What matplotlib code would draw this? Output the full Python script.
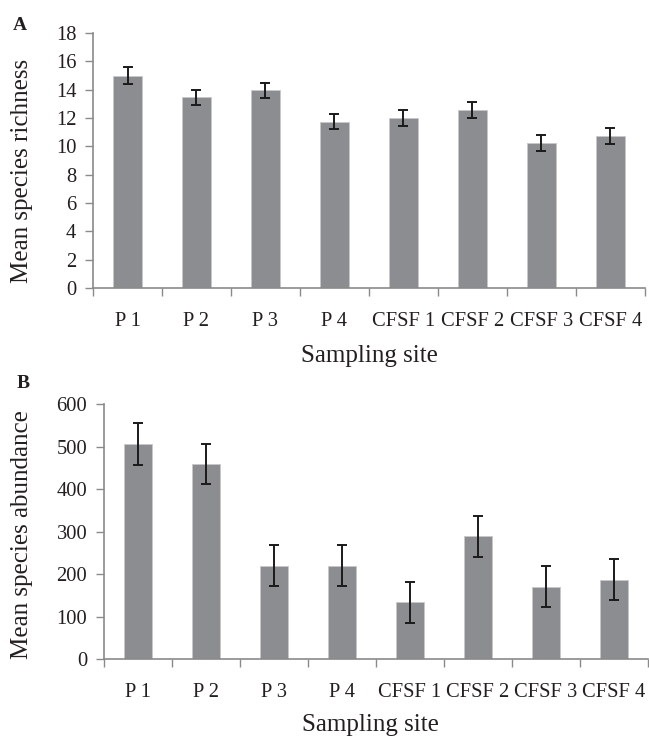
import matplotlib.pyplot as plt
import numpy as np

plt.rcParams['font.family'] = ['Liberation Serif', 'DejaVu Serif']
plt.rcParams['text.color'] = '#231f20'
plt.rcParams['xtick.labelcolor'] = '#231f20'
plt.rcParams['ytick.labelcolor'] = '#231f20'
plt.rcParams['axes.labelcolor'] = '#231f20'

sites = ['P 1', 'P 2', 'P 3', 'P 4', 'CFSF 1', 'CFSF 2', 'CFSF 3', 'CFSF 4']
richness = [15.0, 13.45, 13.95, 11.75, 12.0, 12.55, 10.25, 10.75]
richness_err = [0.57, 0.55, 0.55, 0.55, 0.55, 0.55, 0.55, 0.55]
abundance = [506, 459, 220, 220, 134, 289, 171, 187]
abundance_err = [49, 48, 48, 48, 48, 48, 48, 48]

bar_col = '#8c8d91'
axis_col = '#8a8a8a'

fig = plt.figure(figsize=(6.49, 7.37), dpi=100)
ax1 = fig.add_axes([0.1433, 0.6092, 0.8505, 0.346])
ax2 = fig.add_axes([0.1602, 0.1054, 0.8383, 0.3464])

x = np.arange(len(sites))


def style(ax, vals, errs, ymax, ystep, ylabel, letter, lab_x, lab_y):
    ax.bar(x, vals, width=0.41, color=bar_col, edgecolor='#c8c8ca', linewidth=0.6,
           yerr=errs, capsize=3.5, error_kw=dict(ecolor='#1a1a1a', elinewidth=1.4, capthick=1.4))
    ax.set_xlim(-0.5, len(sites) - 0.5)
    ax.set_ylim(0, ymax)
    ax.set_yticks(np.arange(0, ymax + ystep / 2, ystep))
    ax.set_xticks(x)
    ax.set_xticklabels(sites)
    ax.set_xticks(np.arange(-0.5, len(sites), 1), minor=True)
    ax.tick_params(axis='x', which='major', length=0, pad=17, labelsize=14.8)
    ax.tick_params(axis='x', which='minor', length=6, width=1, color=axis_col, direction='out')
    ax.tick_params(axis='y', length=6, width=1, color=axis_col, pad=6, labelsize=14.8)
    for s in ['top', 'right']:
        ax.spines[s].set_visible(False)
    for s in ['left', 'bottom']:
        ax.spines[s].set_color(axis_col)
        ax.spines[s].set_linewidth(1.2)
    ax.set_ylabel(ylabel, fontsize=18)
    ax.yaxis.set_label_coords(lab_x, lab_y)
    ax.set_xlabel('Sampling site', fontsize=18)
    ax.text(letter[1], letter[2], letter[0], transform=fig.transFigure, fontsize=14,
            fontweight='bold', ha='center', va='center')


style(ax1, richness, richness_err, 18, 2, 'Mean species richness', ('A', 0.031, 0.966), -0.109, 0.46)
style(ax2, abundance, abundance_err, 600, 100, 'Mean species abundance', ('B', 0.036, 0.479), -0.13, 0.49)

ax1.xaxis.set_label_coords(0.5, -0.225)
ax2.xaxis.set_label_coords(0.49, -0.215)

plt.savefig('out.png', dpi=100)
